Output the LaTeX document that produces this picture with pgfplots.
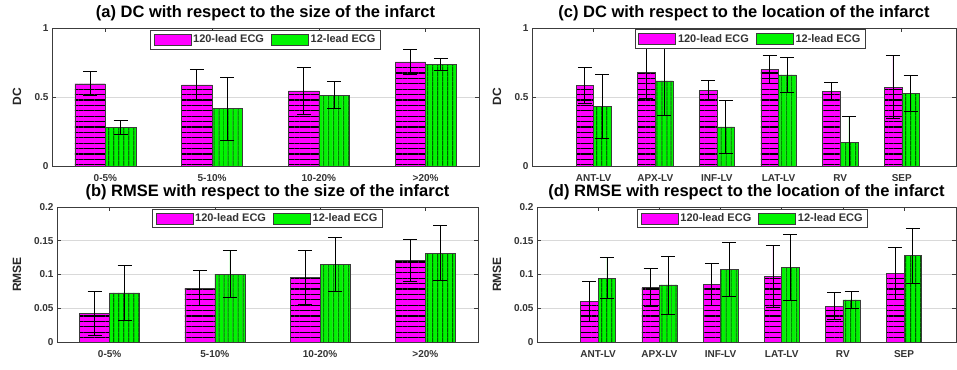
\documentclass[border=0pt]{standalone}
\usepackage{pgfplots}
\pgfplotsset{compat=1.18}
\usepackage{fontspec}
\setmainfont{Liberation Sans}
\usetikzlibrary{patterns.meta}
\definecolor{mag}{RGB}{255,0,255}
\definecolor{grn}{RGB}{0,245,0}
\definecolor{axc}{RGB}{60,60,60}
\pgfplotsset{
  panel/.style={
    scale only axis,
    ybar,
    bar width=0.286,
    ymin=0,
    xtick={1,2,3,4,5,6},
    tick align=inside,
    major tick length=4bp,
    ymajorgrids,
    grid style={black!15, line width=0.6bp},
    axis line style={axc, line width=0.8bp},
    every tick/.style={axc, line width=0.6bp},
    tick label style={font=\fontsize{10bp}{12bp}\selectfont\bfseries, text=black!80},
    xticklabel style={inner sep=0pt, yshift=-8bp, text height=7.5bp, text depth=0.5bp},
    title style={font=\fontsize{16.5bp}{20bp}\selectfont\bfseries, at={(0.5,1)}, anchor=base, yshift=5bp,
      inner sep=0pt, text height=12bp, text depth=3bp},
    legend columns=2,
    legend cell align=left,
    legend style={at={(0.5,0.985)}, anchor=north, font=\fontsize{11bp}{12bp}\selectfont\bfseries, text=black!80,
      draw=axc, line width=0.8bp, inner xsep=3bp, inner ysep=2.5bp,
      nodes={inner xsep=2bp},
      /tikz/every even column/.append style={column sep=5bp}},
  },
  dcy/.style={ymax=1, ytick={0,0.5,1}, yticklabels={0,0.5,1}},
  rmsey/.style={ymax=0.2, ytick={0,0.05,0.1,0.15,0.2}, yticklabels={0,0.05,0.1,0.15,0.2}},
  ylab/.style={every axis y label/.style={at={(rel axis cs:0,0.5)}, xshift=-#1, rotate=90, anchor=center, font=\fontsize{12bp}{14bp}\selectfont\bfseries, text=black!85}},
  errs/.style={error bars/.cd, y dir=both, y explicit,
      error bar style={draw=black, line width=0.8bp, solid},
      error mark options={rotate=90, mark size=7bp, draw=black, line width=0.8bp}},
  magbar/.style={forget plot, fill=mag, draw=axc, line width=0.5bp, bar shift=-0.143,
      postaction={pattern={Lines[angle=0,distance=5.4bp,line width=1.1bp]}, pattern color=black}},
  grnbar/.style={forget plot, fill=grn, draw=axc, line width=0.5bp, bar shift=0.143,
      postaction={pattern={Lines[angle=90,distance=5.2bp,line width=1.1bp]}, pattern color=black}},
}
\newcommand{\mylegend}{%
  \addlegendimage{legend image code/.code={\draw[fill=mag, draw=axc, line width=0.6bp] (0bp,-5.5bp) rectangle (37bp,5.5bp);}}
  \addlegendentry{120-lead ECG}
  \addlegendimage{legend image code/.code={\draw[fill=grn, draw=axc, line width=0.6bp] (0bp,-5.5bp) rectangle (37bp,5.5bp);}}
  \addlegendentry{12-lead ECG}}
\begin{document}
\begin{tikzpicture}
\useasboundingbox (0,0) rectangle (957bp,370bp);
% (a)
\begin{axis}[panel, dcy, ylab=35bp, at={(52bp,204bp)}, anchor=south west, width=427bp, height=138bp,
  xmin=0.5, xmax=4.5, xtick={1,2,3,4}, xticklabels={0-5\%,5-10\%,10-20\%,>20\%},
  title={(a) DC with respect to the size of the infarct}, ylabel={DC}]
\mylegend
\addplot[magbar, errs] coordinates {(1,0.595)+-(0,0.087) (2,0.587)+-(0,0.11) (3,0.544)+-(0,0.167) (4,0.755)+-(0,0.09)};
\addplot[grnbar, errs] coordinates {(1,0.28)+-(0,0.053) (2,0.415)+-(0,0.23) (3,0.513)+-(0,0.097) (4,0.735)+-(0,0.044)};
\end{axis}
% (b)
\begin{axis}[panel, rmsey, ylab=40bp, at={(57bp,28bp)}, anchor=south west, width=421bp, height=135bp,
  xmin=0.5, xmax=4.5, xtick={1,2,3,4}, xticklabels={0-5\%,5-10\%,10-20\%,>20\%},
  title={(b) RMSE with respect to the size of the infarct}, ylabel={RMSE}, title style={yshift=-0.5bp}]
\mylegend
\addplot[magbar, errs] coordinates {(1,0.0423)+-(0,0.032) (2,0.0796)+-(0,0.026) (3,0.0958)+-(0,0.04) (4,0.121)+-(0,0.031)};
\addplot[grnbar, errs] coordinates {(1,0.0727)+-(0,0.041) (2,0.1007)+-(0,0.035) (3,0.1155)+-(0,0.04) (4,0.1317)+-(0,0.041)};
\end{axis}
% (c)
\begin{axis}[panel, dcy, ylab=35bp, at={(532bp,204bp)}, anchor=south west, width=424bp, height=138bp,
  xmin=0, xmax=6.88, xticklabels={ANT-LV,APX-LV,INF-LV,LAT-LV,RV,SEP},
  title={(c) DC with respect to the location of the infarct}, ylabel={DC}, legend style={at={(0.515,0.99)}}]
\mylegend
\addplot[magbar, errs] coordinates {(1,0.585)+-(0,0.13) (2,0.677)+-(0,0.19) (3,0.546)+-(0,0.074) (4,0.70)+-(0,0.105) (5,0.541)+-(0,0.063) (6,0.57)+-(0,0.228)};
\addplot[grnbar, errs] coordinates {(1,0.434)+-(0,0.233) (2,0.617)+-(0,0.25) (3,0.284)+-(0,0.19) (4,0.66)+-(0,0.13) (5,0.17)+-(0,0.187) (6,0.527)+-(0,0.13)};
\end{axis}
% (d)
\begin{axis}[panel, rmsey, ylab=40bp, at={(537bp,28bp)}, anchor=south west, width=419bp, height=135bp,
  xmin=0, xmax=6.85, xticklabels={ANT-LV,APX-LV,INF-LV,LAT-LV,RV,SEP},
  title={(d) RMSE with respect to the location of the infarct}, ylabel={RMSE}, title style={yshift=-0.5bp}, legend style={at={(0.515,0.985)}}]
\mylegend
\addplot[magbar, errs] coordinates {(1,0.06)+-(0,0.03) (2,0.0806)+-(0,0.028) (3,0.0855)+-(0,0.031) (4,0.0973)+-(0,0.046) (5,0.053)+-(0,0.02) (6,0.1017)+-(0,0.038)};
\addplot[grnbar, errs] coordinates {(1,0.0948)+-(0,0.03) (2,0.0845)+-(0,0.043) (3,0.108)+-(0,0.04) (4,0.1106)+-(0,0.049) (5,0.0624)+-(0,0.012) (6,0.128)+-(0,0.041)};
\end{axis}
\end{tikzpicture}
\end{document}
